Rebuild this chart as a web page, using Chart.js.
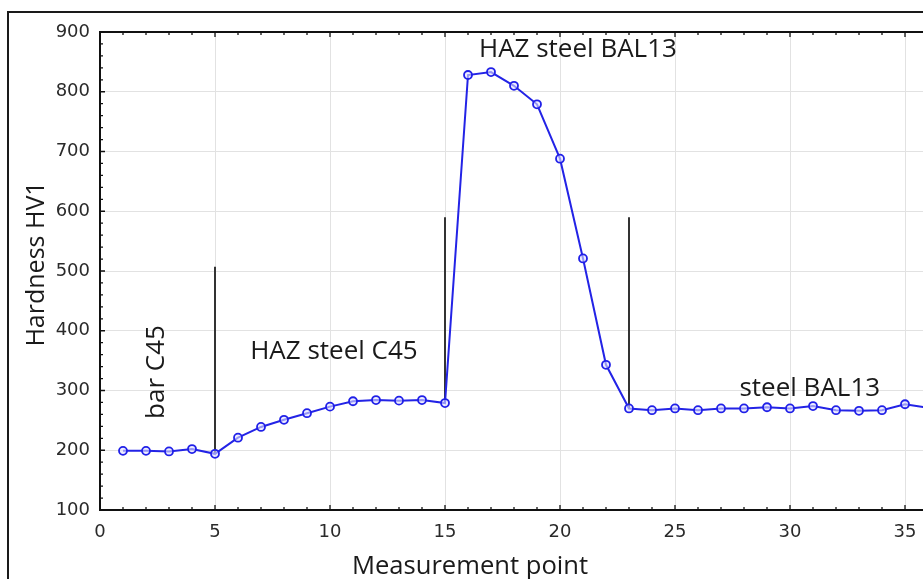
<!DOCTYPE html>
<html>
<head>
<meta charset="utf-8">
<script src="https://cdn.jsdelivr.net/npm/chart.js@4.4.0/dist/chart.umd.min.js"></script>
<style>
  html, body { margin: 0; padding: 0; background: #fff; overflow: hidden; }
  #wrap { position: relative; width: 928px; height: 579px; overflow: hidden; }
  #frame { position: absolute; left: 7px; top: 11px; width: 2000px; height: 2000px; border: 2px solid #1a1a1a; box-sizing: border-box; pointer-events: none; }
  canvas { position: absolute; left: 0; top: 0; width: 928px; height: 579px; }
</style>
</head>
<body>
<div id="wrap">
  <div id="frame"></div>
  <canvas id="c" width="928" height="579"></canvas>
</div>
<script>
// ---- data ----
const points = [1,2,3,4,5,6,7,8,9,10,11,12,13,14,15,16,17,18,19,20,21,22,23,24,25,26,27,28,29,30,31,32,33,34,35,36];
const hardness = [199,199,198,202,194,221,239,251,262,273,282,284,283,284,279,828,833,810,779,688,521,343,270,267,270,267,270,270,272,270,274,267,266,267,277,271];
const dividerX = [5, 15, 23];
const dividerBottom = [194, 279, 270];
const dividerTop = [507, 590, 590];
const xTicks = [0,5,10,15,20,25,30,35];
const yTicks = [100,200,300,400,500,600,700,800,900];
const labels = [
  { text: 'HAZ steel BAL13', x: 20.78, y: 858, rot: 0 },
  { text: 'HAZ steel C45',   x: 10.17, y: 353, rot: 0 },
  { text: 'steel BAL13',     x: 30.86, y: 290, rot: 0 },
  { text: 'bar C45',         x: 3.04, y: 331, rot: -90 }
];
const xTitle = 'Measurement point';
const yTitle = 'Hardness HV1';

// ---- build ----
const seriesData = points.map((p, i) => ({ x: p, y: hardness[i] }));
const dividerSets = dividerX.map((dx, i) => ({
  data: [{ x: dx, y: dividerBottom[i] }, { x: dx, y: dividerTop[i] }],
  borderColor: '#333', borderWidth: 2, pointRadius: 0, fill: false, tension: 0, order: 2
}));

const decor = {
  id: 'decor',
  afterDraw(chart) {
    const { ctx, chartArea: { left, top, right, bottom }, scales: { x, y } } = chart;
    ctx.save();
    ctx.strokeStyle = '#111';
    ctx.lineWidth = 2;
    ctx.beginPath();
    ctx.moveTo(right + 5, top); ctx.lineTo(left, top); ctx.lineTo(left, bottom); ctx.lineTo(right + 5, bottom);
    ctx.stroke();
    ctx.lineWidth = 1.3;
    ctx.beginPath();
    for (let v = Math.ceil(x.min); v <= x.max; v++) {
      const px = x.getPixelForValue(v);
      const len = v % 5 === 0 ? 5 : 3;
      ctx.moveTo(px, bottom); ctx.lineTo(px, bottom - len);
      ctx.moveTo(px, top); ctx.lineTo(px, top + len);
    }
    for (let v = y.min; v <= y.max; v += 20) {
      const py = y.getPixelForValue(v);
      const len = v % 100 === 0 ? 5 : 3;
      ctx.moveTo(left, py); ctx.lineTo(left + len, py);
    }
    ctx.stroke();

    ctx.fillStyle = '#1a1a1a';
    ctx.font = '26px "Open Sans"';
    ctx.textAlign = 'center';
    labels.forEach(l => {
      const px = x.getPixelForValue(l.x), py = y.getPixelForValue(l.y);
      ctx.save();
      ctx.translate(px, py);
      ctx.rotate(l.rot * Math.PI / 180);
      ctx.textBaseline = l.rot ? 'bottom' : 'alphabetic';
      ctx.fillText(l.text, 0, 0);
      ctx.restore();
    });
    ctx.textBaseline = 'alphabetic';
    ctx.font = '25.6px "Open Sans"';
    ctx.fillText(xTitle, 470, 574);
    ctx.font = '25px "Open Sans"';
    ctx.save();
    ctx.translate(44, 264);
    ctx.rotate(-Math.PI / 2);
    ctx.fillText(yTitle, 0, 0);
    ctx.restore();
    ctx.restore();
  }
};

new Chart(document.getElementById('c'), {
  type: 'line',
  data: {
    datasets: [
      {
        data: seriesData,
        borderColor: '#2323e6', borderWidth: 2,
        pointRadius: 4, pointBorderWidth: 1.8,
        pointBorderColor: '#2020e8', pointBackgroundColor: 'rgba(225,225,255,0.6)',
        tension: 0, fill: false, order: 1
      },
      ...dividerSets
    ]
  },
  options: {
    responsive: false,
    animation: false,
    events: [],
    layout: { autoPadding: false, padding: { top: 32, right: 0, left: 0, bottom: 0 } },
    plugins: { legend: { display: false }, tooltip: { enabled: false } },
    scales: {
      x: {
        type: 'linear', min: 0, max: 36,
        afterFit(s) { s.height = 69; s.paddingLeft = 0; s.paddingRight = 0; },
        afterBuildTicks(s) { s.ticks = xTicks.map(v => ({ value: v })); },
        ticks: { includeBounds: false, padding: 12, color: '#2a2a2a', font: { family: 'DejaVu Sans', size: 18 }, maxRotation: 0 },
        grid: { color: '#e2e2e2', lineWidth: 1, drawTicks: false },
        border: { display: false }
      },
      y: {
        type: 'linear', min: 100, max: 900,
        afterFit(s) { s.width = 100; s.paddingTop = 0; s.paddingBottom = 0; },
        afterBuildTicks(s) { s.ticks = yTicks.map(v => ({ value: v })); },
        ticks: { padding: 10, color: '#2a2a2a', font: { family: 'DejaVu Sans', size: 18 } },
        grid: { color: '#e2e2e2', lineWidth: 1, drawTicks: false },
        border: { display: false }
      }
    }
  },
  plugins: [decor]
});
</script>
</body>
</html>
